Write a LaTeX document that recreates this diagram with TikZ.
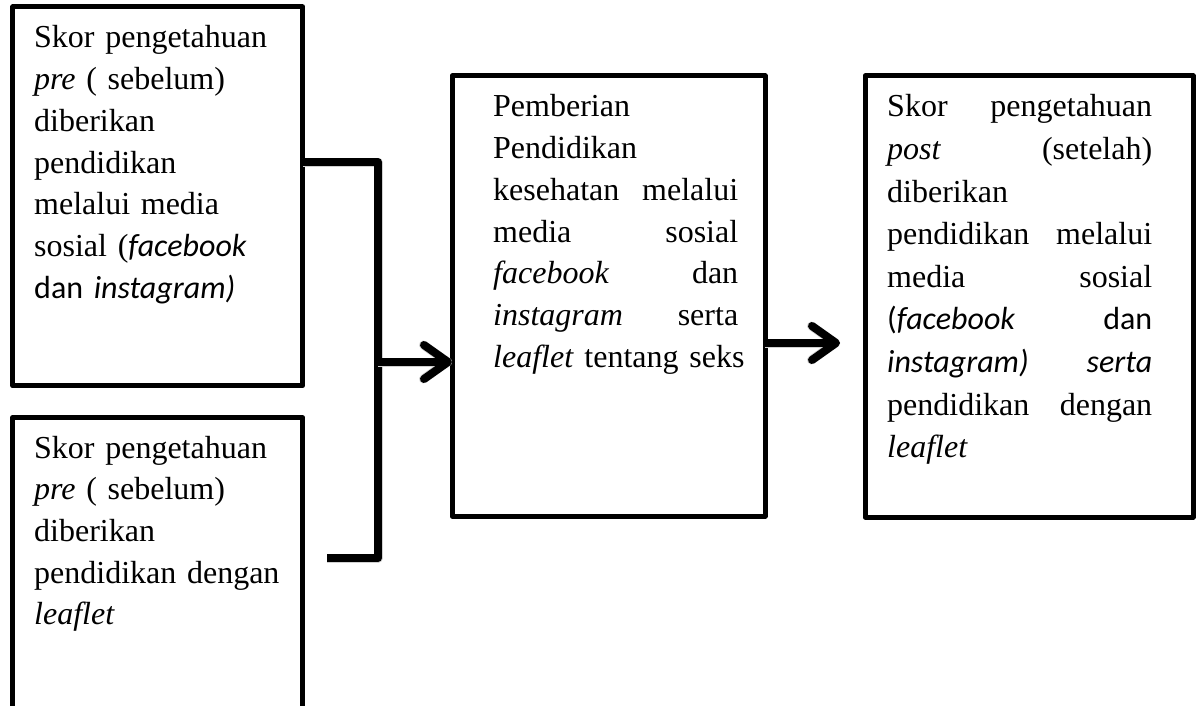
\documentclass[tikz,border=0pt]{standalone}
\usepackage{fontspec}
\setmainfont{Liberation Serif}
\newfontfamily\calib{Carlito}
\usetikzlibrary{arrows.meta}
\newcommand\jl[2]{\leavevmode\hbox to \linewidth{#1\hfill #2}}
\begin{document}
\begin{tikzpicture}[x=1pt,y=-1pt,
 box/.style={draw, line width=5pt, line join=round, inner sep=0pt, outer sep=0pt},
 txt/.style={anchor=base west, inner sep=0pt, align=left, font=\fontsize{32}{41.7}\selectfont},
 conn/.style={line width=8pt, line join=round},
 shad/.style={line width=9pt, line join=round, black!18, shift={(1.5pt,-3pt)}},
 arr/.style={line width=8pt, -{Straight Barb[length=24pt,width=34pt,round]}}]
\useasboundingbox (0,0) rectangle (1196,706);
\clip (0,0) rectangle (1196,706);
\fill[white] (0,0) rectangle (1196,706);
% boxes
\node[box, minimum width=290pt, minimum height=378.7pt] (b1) at (157.7,196.35) {};
\node[box, minimum width=290pt, minimum height=342.3pt] (b2) at (157.7,588.85) {};
\node[box, minimum width=313pt, minimum height=440pt] (mid) at (608.5,296) {};
\node[box, minimum width=328pt, minimum height=441pt] (rb) at (1029,296.5) {};
% texts
\node[txt, text width=265pt] (t1) at (34,48) {Skor pengetahuan\\
\textit{pre} ( sebelum)\\
diberikan\\
pendidikan\\
melalui media\\
sosial ({\calib\itshape facebook}\\
{\calib dan \itshape instagram)}};
\node[txt, text width=265pt] (t2) at (34,458) {Skor pengetahuan\\
\textit{pre} ( sebelum)\\
diberikan\\
pendidikan dengan\\
\textit{leaflet}};
\node[txt, text width=245pt] (t3) at (493,117) {Pemberian\\
Pendidikan\\
\jl{kesehatan}{melalui}\\
\jl{media}{sosial}\\
\jl{\textit{facebook}}{dan}\\
\jl{\textit{instagram}}{serta}\\
\mbox{\textit{leaflet} tentang seks}};
\node[txt, text width=265pt, font=\fontsize{32}{42.6}\selectfont] (t4) at (887,117) {\jl{Skor}{pengetahuan}\\
\jl{\textit{post}}{(setelah)}\\
diberikan\\
\jl{pendidikan}{melalui}\\
\jl{media}{sosial}\\
\jl{{\calib(\itshape facebook}}{{\calib dan}}\\
\jl{{\calib\itshape instagram)}}{{\calib\itshape serta}}\\
\jl{pendidikan}{dengan}\\
\textit{leaflet}};
% connectors
\coordinate (j1) at (378,162);
\coordinate (j2) at (378,558);
\coordinate (j3) at (327,558);
\coordinate (a1) at (378,362);
\coordinate (a2) at (840,343);
\draw[shad] (b1.east |- j1) -- (j1) -- (j2) -- (j3);
\draw[conn] (b1.east |- j1) -- (j1) -- (j2) -- (j3);
\draw[shad, -{Straight Barb[length=24pt,width=34pt,round]}] (a1) -- (a1 -| mid.west);
\draw[arr] (a1) -- (a1 -| mid.west);
\draw[shad, -{Straight Barb[length=24pt,width=34pt,round]}] (mid.east |- a2) -- (a2);
\draw[arr] (mid.east |- a2) -- (a2);
\end{tikzpicture}
\end{document}
